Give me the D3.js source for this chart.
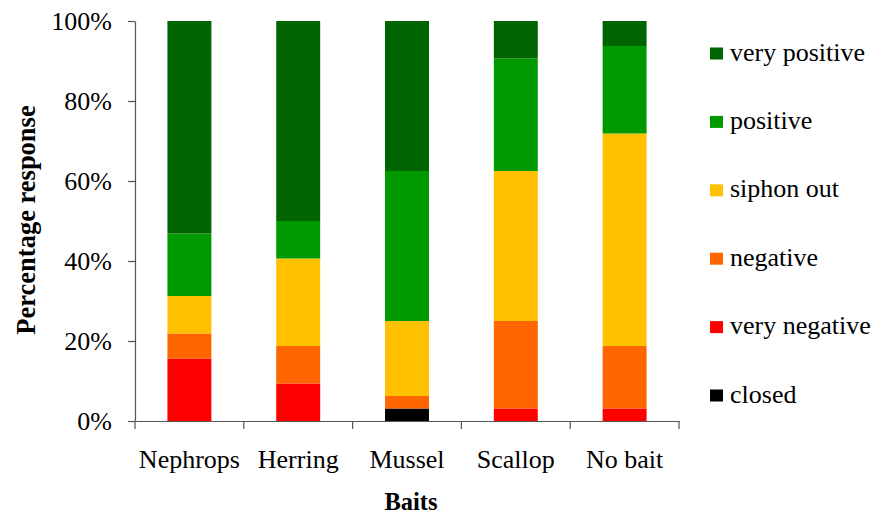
<!DOCTYPE html>
<html>
<head>
<meta charset="utf-8">
<script src="https://cdn.jsdelivr.net/npm/d3@7"></script>
</head>
<body style="margin:0;background:#fff">
<svg id="chart" width="872" height="515" style="display:block"></svg>
<script>
// Baits tested and the share of responses (%) in each category, bottom to top
const baits = ["Nephrops", "Herring", "Mussel", "Scallop", "No bait"];
const responses = ["closed", "very negative", "negative", "siphon out", "positive", "very positive"];
const closed       = [0,      0,      3.125,  0,      0];
const veryNegative = [15.625, 9.375,  0,      3.125,  3.125];
const negative     = [6.25,   9.375,  3.125,  21.875, 15.625];
const siphonOut    = [9.375,  21.875, 18.75,  37.5,   53.125];
const positive     = [15.625, 9.375,  37.5,   28.125, 21.875];
const veryPositive = [53.125, 50,     37.5,   9.375,  6.25];
const yTicks = [0, 20, 40, 60, 80, 100];
const colours = ["#000000", "#FF0000", "#FF6600", "#FFC000", "#009900", "#006400"];

const FONT = '"Liberation Serif"';

const series = [closed, veryNegative, negative, siphonOut, positive, veryPositive];
const rows = baits.map((b, i) => {
  const r = { bait: b };
  responses.forEach((k, j) => { r[k] = series[j][i]; });
  return r;
});

const svg = d3.select("#chart");
const plotLeft = 135, plotRight = 679, plotTop = 21, plotBottom = 421;

const x = d3.scaleBand().domain(baits).range([plotLeft, plotRight])
  .paddingInner(0.596).paddingOuter(0.298);
const y = d3.scaleLinear().domain([0, 100]).range([plotBottom, plotTop]);
const colour = d3.scaleOrdinal().domain(responses).range(colours);

const stacked = d3.stack().keys(responses)(rows);

// Stacked bars
svg.append("g").selectAll("g").data(stacked).join("g")
  .attr("fill", d => colour(d.key))
  .selectAll("rect").data(d => d).join("rect")
  .attr("x", d => x(d.data.bait))
  .attr("width", x.bandwidth())
  .attr("y", d => y(d[1]))
  .attr("height", d => y(d[0]) - y(d[1]));

// Y axis
const yAxis = svg.append("g").attr("transform", `translate(${plotLeft},0)`)
  .call(d3.axisLeft(y).tickValues(yTicks).tickFormat(d => d + "%").tickSize(7).tickSizeOuter(0))
  .attr("font-family", null).attr("font-size", null);
yAxis.select(".domain").attr("stroke", "#555").attr("stroke-width", 1.2);
yAxis.selectAll(".tick line").attr("stroke", "#555").attr("stroke-width", 1.2);
yAxis.selectAll(".tick text")
  .attr("x", -23)
  .attr("dy", "0.34em")
  .attr("fill", "#000")
  .attr("font-size", 26)
  .style("font-family", FONT);

// X axis with ticks on the category boundaries
const xAxis = svg.append("g").attr("transform", `translate(0,${plotBottom})`)
  .call(d3.axisBottom(x).tickSize(0).tickSizeOuter(0))
  .attr("font-family", null).attr("font-size", null);
xAxis.select(".domain").attr("stroke", "#555").attr("stroke-width", 1.2);
xAxis.selectAll(".tick text")
  .attr("dy", 0)
  .attr("y", 47)
  .attr("fill", "#000")
  .attr("font-size", 26)
  .style("font-family", FONT);
const bounds = d3.range(baits.length + 1).map(i => plotLeft + i * x.step());
xAxis.selectAll(".bound").data(bounds).join("line")
  .attr("class", "bound")
  .attr("x1", d => d).attr("x2", d => d)
  .attr("y1", 0).attr("y2", 8)
  .attr("stroke", "#555").attr("stroke-width", 1.2);

// Axis titles
svg.append("text")
  .attr("transform", `translate(35,220) rotate(-90)`)
  .attr("text-anchor", "middle")
  .attr("fill", "#000")
  .attr("font-size", 26.5)
  .attr("font-weight", "bold")
  .style("font-family", FONT)
  .text("Percentage response");

svg.append("text")
  .attr("x", 411)
  .attr("y", 510)
  .attr("text-anchor", "middle")
  .attr("fill", "#000")
  .attr("font-size", 24.5)
  .attr("font-weight", "bold")
  .style("font-family", FONT)
  .text("Baits");

// Legend, top entry first
const legendItems = responses.slice().reverse();
const legend = svg.append("g").selectAll("g").data(legendItems).join("g")
  .attr("transform", (d, i) => `translate(710,${53.5 + i * 68.4})`);
legend.append("rect")
  .attr("x", 0).attr("y", -6).attr("width", 13).attr("height", 12)
  .attr("fill", d => colour(d));
legend.append("text")
  .attr("x", 20).attr("y", 7)
  .attr("fill", "#000")
  .attr("font-size", 26)
  .style("font-family", FONT)
  .text(d => d);
</script>
</body>
</html>
